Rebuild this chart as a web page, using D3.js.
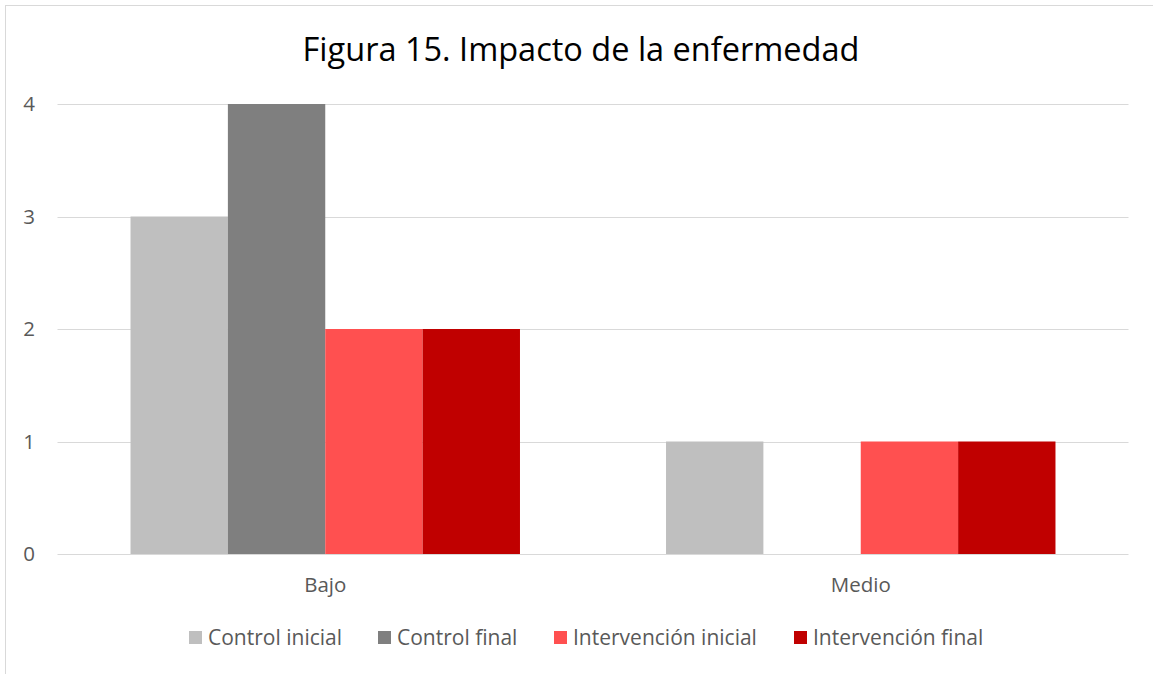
<!DOCTYPE html>
<html><head><meta charset="utf-8">
<script src="https://cdn.jsdelivr.net/npm/d3@7"></script>
<style>body{margin:0;background:#fff;} svg{display:block;}</style>
</head><body>
<svg id="chart" width="1153" height="674"></svg>
<script>
const title = "Figura 15. Impacto de la enfermedad";
const categories = ["Bajo", "Medio"];
const seriesNames = ["Control inicial", "Control final", "Intervención inicial", "Intervención final"];
const seriesColors = ["#bfbfbf", "#7f7f7f", "#ff5050", "#c00000"];
const controlInicial = [3, 1];
const controlFinal = [4, 0];
const intervencionInicial = [2, 1];
const intervencionFinal = [2, 1];
const yTicks = [0, 1, 2, 3, 4];
const seriesValues = [controlInicial, controlFinal, intervencionInicial, intervencionFinal];

const font = "'Open Sans', Lato, sans-serif";
const svg = d3.select("#chart");
svg.append("rect").attr("x", 5.5).attr("y", 5.5).attr("width", 1160).attr("height", 680)
  .attr("fill", "#fff").attr("stroke", "#d9d9d9").attr("stroke-width", 1);

const pLeft = 57.5, pRight = 1128.5, pTop = 104, pBottom = 554;
const x0 = d3.scaleBand().domain(categories).range([pLeft, pRight]).paddingInner(0).paddingOuter(0);
const y = d3.scaleLinear().domain([0, 4]).range([pBottom, pTop]);
// Excel gap width 150%: band = 4*bw + 1.5*bw
const bw = x0.bandwidth() / 5.5;
const x1 = d3.scaleBand().domain(seriesNames).range([0, bw * 4]);

// gridlines
svg.append("g").selectAll("line").data(yTicks).join("line")
  .attr("x1", pLeft).attr("x2", pRight)
  .attr("y1", d => Math.round(y(d)) + 0.5).attr("y2", d => Math.round(y(d)) + 0.5)
  .attr("stroke", "#d9d9d9").attr("stroke-width", 1);

// bars
categories.forEach((c, ci) => {
  const gx = x0(c) + (x0.bandwidth() - bw * 4) / 2;
  svg.append("g").selectAll("rect").data(seriesNames.map((s, si) => ({s, si, v: seriesValues[si][ci]})))
    .join("rect")
    .attr("x", d => gx + x1(d.s))
    .attr("width", x1.bandwidth())
    .attr("y", d => y(d.v))
    .attr("height", d => y(0) - y(d.v))
    .attr("fill", d => seriesColors[d.si]);
});

// y axis labels
svg.append("g").selectAll("text").data(yTicks).join("text")
  .attr("x", 35).attr("y", d => y(d) + 7)
  .attr("text-anchor", "end").attr("font-family", font).attr("font-size", 20.5)
  .attr("fill", "#595959").text(d => d);

// category labels
svg.append("g").selectAll("text").data(categories).join("text")
  .attr("x", d => x0(d) + x0.bandwidth() / 2).attr("y", 592)
  .attr("text-anchor", "middle").attr("font-family", font).attr("font-size", 20.5)
  .attr("fill", "#595959").text(d => d);

// title
svg.append("text").attr("x", 581).attr("y", 61).attr("text-anchor", "middle")
  .attr("font-family", font).attr("font-size", 32.5).attr("fill", "#000").text(title);

// legend
const legX = [189, 378, 554, 794];
const lg = svg.append("g");
seriesNames.forEach((s, i) => {
  lg.append("rect").attr("x", legX[i]).attr("y", 631).attr("width", 13).attr("height", 13).attr("fill", seriesColors[i]);
  lg.append("text").attr("x", legX[i] + 19).attr("y", 645).attr("font-family", font).attr("font-size", 21)
    .attr("fill", "#595959").text(s);
});
</script>
</body></html>
